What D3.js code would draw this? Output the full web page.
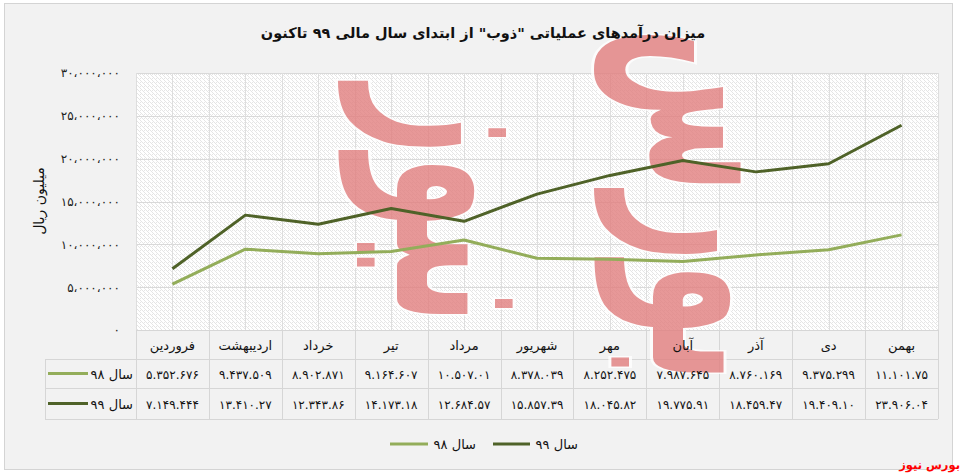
<!DOCTYPE html>
<html><head><meta charset="utf-8">
<script src="https://cdn.jsdelivr.net/npm/d3@7"></script>
<style>html,body{margin:0;padding:0;background:#fff;}svg{display:block;}</style>
</head><body>
<svg id="chart" width="962" height="474"></svg>
<script>
const titleText = 'میزان درآمدهای عملیاتی "ذوب" از ابتدای سال مالی ۹۹ تاکنون';
const yAxisTitle = 'میلیون ریال';
const months = ['فروردین','اردیبهشت','خرداد','تیر','مرداد','شهریور','مهر','آبان','آذر','دی','بهمن'];
const seriesNames = ['سال ۹۸','سال ۹۹'];
const values98 = [5352676, 9437509, 8902871, 9164607, 10507001, 8378039, 8252475, 7987645, 8760169, 9375299, 11101075];
const values99 = [7149444, 13410027, 12343086, 14173018, 12684057, 15857039, 18045082, 19775091, 18459047, 19409010, 23906004];
const labels98 = ['۵.۳۵۲.۶۷۶','۹.۴۳۷.۵۰۹','۸.۹۰۲.۸۷۱','۹.۱۶۴.۶۰۷','۱۰.۵۰۷.۰۱','۸.۳۷۸.۰۳۹','۸.۲۵۲.۴۷۵','۷.۹۸۷.۶۴۵','۸.۷۶۰.۱۶۹','۹.۳۷۵.۲۹۹','۱۱.۱۰۱.۷۵'];
const labels99 = ['۷.۱۴۹.۴۴۴','۱۳.۴۱۰.۲۷','۱۲.۳۴۳.۸۶','۱۴.۱۷۳.۱۸','۱۲.۶۸۴.۵۷','۱۵.۸۵۷.۳۹','۱۸.۰۴۵.۸۲','۱۹.۷۷۵.۹۱','۱۸.۴۵۹.۴۷','۱۹.۴۰۹.۱۰','۲۳.۹۰۶.۰۴'];
const tickValues = [0, 5000000, 10000000, 15000000, 20000000, 25000000, 30000000];
const tickLabels = ['۰','۵،۰۰۰،۰۰۰','۱۰،۰۰۰،۰۰۰','۱۵،۰۰۰،۰۰۰','۲۰،۰۰۰،۰۰۰','۲۵،۰۰۰،۰۰۰','۳۰،۰۰۰،۰۰۰'];
const watermark = ['بورس','نیوز'];
const brand = 'بورس نیوز';

const colors = ['#93ad5a', '#4f6228'];
const font = "'DejaVu Sans', sans-serif";
const svg = d3.select('#chart');
const P = {l:136, r:938, t:73, b:330};
const tableLeft = 45, rowH = [29, 29, 31];

// frame
svg.append('rect').attr('x',4.5).attr('y',3.5).attr('width',948).attr('height',466)
  .attr('fill','#f2f2f2').attr('stroke','#d4d4d4');

// pattern
const defs = svg.append('defs');
const pat = defs.append('pattern').attr('id','hatch').attr('patternUnits','userSpaceOnUse')
  .attr('width',4).attr('height',4);
pat.append('rect').attr('width',4).attr('height',4).attr('fill','#ffffff');
pat.append('path').attr('d','M-1,1 l2,2 M0,0 l4,4 M3,-1 l2,2').attr('stroke','#e2e2e2').attr('stroke-width',0.9);

const x = d3.scaleBand().domain(months).range([P.l, P.r]).paddingInner(0).paddingOuter(0);
const y = d3.scaleLinear().domain([0, 30000000]).range([P.b, P.t]);

svg.append('rect').attr('x',P.l).attr('y',P.t).attr('width',P.r-P.l).attr('height',P.b-P.t).attr('fill','url(#hatch)');

// gridlines
const g = svg.append('g');
g.selectAll('line.h').data(tickValues).join('line')
  .attr('x1',P.l).attr('x2',P.r).attr('y1',d=>Math.round(y(d))+0.5).attr('y2',d=>Math.round(y(d))+0.5)
  .attr('stroke','#d9d9d9');
const vx = [];
months.forEach(m=>{ vx.push(x(m)); vx.push(x(m)+x.bandwidth()/2); });
vx.push(P.r);
g.selectAll('line.v').data(vx).join('line')
  .attr('x1',d=>Math.round(d)+0.5).attr('x2',d=>Math.round(d)+0.5).attr('y1',P.t).attr('y2',P.b)
  .attr('stroke','#dedede');

// table grid
const t = svg.append('g');
const y0 = P.b, y1 = y0+rowH[0], y2 = y1+rowH[1], y3 = y2+rowH[2];
const bc = '#d6d6d6';
[[P.l,P.r,y0],[tableLeft,P.r,y1],[tableLeft,P.r,y2],[tableLeft,P.r,y3]].forEach(([a,b,yy])=>{
  t.append('line').attr('x1',a).attr('x2',b).attr('y1',yy+0.5).attr('y2',yy+0.5).attr('stroke',bc);
});
const colX = months.map(m=>x(m)).concat([P.r]);
t.selectAll('line.c').data(colX).join('line')
  .attr('x1',d=>Math.round(d)+0.5).attr('x2',d=>Math.round(d)+0.5).attr('y1',y0).attr('y2',y3).attr('stroke',bc);
t.append('line').attr('x1',tableLeft+0.5).attr('x2',tableLeft+0.5).attr('y1',y1).attr('y2',y3).attr('stroke',bc);

// watermark (decorative)
const wm = svg.append('g').attr('transform','translate(505,205) rotate(90) scale(1,2.0)').attr('opacity',0.8);
wm.selectAll('text').data(watermark).join('text')
  .attr('x',0).attr('y',(d,i)=> i===0 ? -74 : 54)
  .attr('text-anchor','middle').attr('direction','rtl')
  .attr('font-family',font).attr('font-weight','bold').attr('font-size',120)
  .attr('fill','#e27f7f').attr('stroke','#ffffff').attr('stroke-width',3).attr('paint-order','stroke')
  .text(d=>d);

// y axis labels
const yAxis = d3.axisLeft(y).tickValues(tickValues).tickFormat((d,i)=>tickLabels[i]).tickSize(0).tickPadding(16);
const ya = svg.append('g').attr('transform',`translate(${P.l},0)`).call(yAxis);
ya.select('.domain').remove();
ya.selectAll('text').attr('font-family',font).attr('font-size',12).attr('fill','#222').attr('direction','ltr');

svg.append('text').attr('transform','translate(44,201) rotate(-90)').attr('text-anchor','middle')
  .attr('font-family',font).attr('font-size',14).attr('fill','#111').attr('direction','rtl').text(yAxisTitle);

// title
svg.append('text').attr('x',483).attr('y',38).attr('text-anchor','middle').attr('direction','rtl')
  .attr('font-family',font).attr('font-weight','bold').attr('font-size',14.5).attr('fill','#111').text(titleText);

// lines
const series = [values98, values99];
const line = d3.line().x((d,i)=>x(months[i])+x.bandwidth()/2).y(d=>y(d));
svg.selectAll('path.series').data(series).join('path')
  .attr('d',d=>line(d)).attr('fill','none').attr('stroke',(d,i)=>colors[i]).attr('stroke-width',3)
  .attr('stroke-linejoin','round');

// table text
const tt = svg.append('g');
tt.selectAll('text.m').data(months).join('text')
  .attr('x',d=>x(d)+x.bandwidth()/2).attr('y',y0+rowH[0]/2+5).attr('text-anchor','middle').attr('direction','rtl')
  .attr('font-family',font).attr('font-size',13).attr('fill','#111').text(d=>d);
[labels98, labels99].forEach((labs,r)=>{
  const cy = (r===0 ? y1 : y2) + rowH[r+1]/2 + 5;
  tt.selectAll(null).data(labs).join('text')
    .attr('x',(d,i)=>x(months[i])+x.bandwidth()/2).attr('y',cy).attr('text-anchor','middle').attr('direction','ltr')
    .attr('font-family',font).attr('font-size',12).attr('fill','#111').text(d=>d);
  tt.append('line').attr('x1',tableLeft+3).attr('x2',88).attr('y1',cy-5).attr('y2',cy-5)
    .attr('stroke',colors[r]).attr('stroke-width',3);
  tt.append('text').attr('x',133).attr('y',cy).attr('text-anchor','start').attr('direction','rtl')
    .attr('font-family',font).attr('font-size',13).attr('fill','#111').text(seriesNames[r]);
});

// legend
const legendItems = [{name:seriesNames[1], c:colors[1], x0:493, x1:530},{name:seriesNames[0], c:colors[0], x0:390, x1:428}];
const lg = svg.append('g');
legendItems.forEach(it=>{
  lg.append('line').attr('x1',it.x0).attr('x2',it.x1).attr('y1',444).attr('y2',444).attr('stroke',it.c).attr('stroke-width',3);
  lg.append('text').attr('x',it.x1+48).attr('y',449).attr('text-anchor','start').attr('direction','rtl')
    .attr('font-family',font).attr('font-size',13).attr('fill','#111').text(it.name);
});

// brand
svg.append('text').attr('x',960).attr('y',469).attr('text-anchor','start').attr('direction','rtl')
  .attr('font-family',font).attr('font-weight','bold').attr('font-size',11.5).attr('fill','#ff0000').text(brand);
</script>
</body></html>
